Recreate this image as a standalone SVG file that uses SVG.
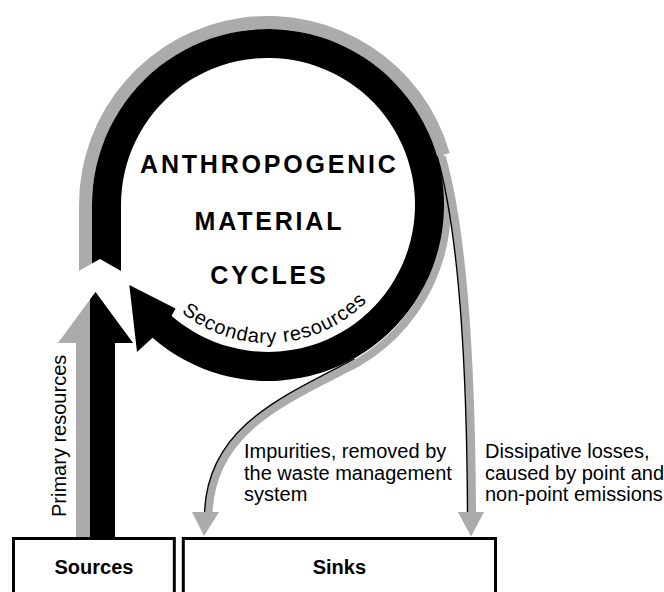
<svg xmlns="http://www.w3.org/2000/svg" width="664" height="592" viewBox="0 0 664 592">
  <style>
    .shade { fill: #ababab; }
    .ink { fill: #000; }
    .stream { fill: none; stroke: #ababab; }
    .edge { fill: none; stroke: #000; stroke-width: 1.4; }
    .box { fill: #fff; stroke: #000; stroke-width: 3; }
    .title { font-family: "Liberation Sans", Arial, sans-serif; font-weight: bold; font-size: 25px; letter-spacing: 2.8px; text-anchor: middle; fill: #000; }
    .label { font-family: "Liberation Sans", Arial, sans-serif; font-size: 20px; fill: #000; }
    .curved { letter-spacing: 0.8px; }
    .boxlabel { font-family: "Liberation Sans", Arial, sans-serif; font-weight: bold; font-size: 20px; text-anchor: middle; fill: #000; }
  </style>
  <defs>
    <!-- baseline arc for the curved label, concentric with the loop -->
    <path id="secondaryArc" d="M 148.5,274 A 138 138 0 0 0 387.5,274"/>
  </defs>

  <rect width="664" height="592" fill="#fff"/>

  <g id="connectors">
    <!-- outer grey band around the cycle, chevron cut at the lower left -->
    <path class="shade" d="M 79,271 L 79,205 A 189 189 0 0 1 449.7,152.9 L 437.2,156.5 A 176 176 0 0 0 92,205 L 92,263.6 Z"/>
    <!-- thin grey edge along the right side that peels off as the impurities stream -->
    <path class="stream" stroke-width="8" d="M 433.6,139.2 A 180 180 0 0 1 357,363 C 282,402 212,430 208.5,513"/>
    <path class="edge" d="M 354.5,359 C 279,398 207.5,428 204.5,513"/>
    <polygon class="shade" points="192,512 219,512 204,536"/>
    <!-- dissipative losses stream -->
    <path class="stream" stroke-width="8" d="M 441.7,156.5 C 466.5,243 471.5,400 472,513"/>
    <path class="edge" d="M 437.2,156.5 C 462,243 467,400 467.5,513"/>
    <polygon class="shade" points="458,512 484,512 471,536.5"/>
    <!-- primary resources arrow: grey left half, black right half -->
    <polygon class="shade" points="95.5,292 58,343 76,343 76,537 115,537 115,343 133,343"/>
    <polygon class="ink" points="95.5,292 133,343 115,343 115,537 90,537 90,299.5"/>
  </g>

  <g id="cycle">
    <!-- black loop ending in the secondary resources arrowhead -->
    <path class="ink" d="M 92,263.6 L 92,205 A 176 176 0 1 1 152.5,337.8 L 137,352 L 129.3,285 L 175.5,308.5 L 171.6,315.9 A 147 147 0 1 0 121,205 L 121,271 L 100,259 Z"/>
    <text class="title" x="269.4" y="173">ANTHROPOGENIC</text>
    <text class="title" x="269.4" y="230">MATERIAL</text>
    <text class="title" x="269.4" y="284">CYCLES</text>
    <text class="label curved"><textPath href="#secondaryArc" startOffset="53%" text-anchor="middle">Secondary resources</textPath></text>
  </g>

  <g id="labels">
    <text class="label" transform="translate(66,517) rotate(-90)">Primary resources</text>
    <text class="label" x="244" y="458">Impurities, removed by</text>
    <text class="label" x="244" y="479.5">the waste management</text>
    <text class="label" x="244" y="501">system</text>
    <text class="label" x="485" y="458">Dissipative losses,</text>
    <text class="label" x="485" y="479.5">caused by point and</text>
    <text class="label" x="485" y="501">non-point emissions</text>
  </g>

  <g id="sources">
    <rect class="box" x="13.5" y="538.5" width="160.8" height="70"/>
    <text class="boxlabel" x="94" y="574">Sources</text>
  </g>

  <g id="sinks">
    <rect class="box" x="183.3" y="538.5" width="312.2" height="70"/>
    <text class="boxlabel" x="339.4" y="574">Sinks</text>
  </g>
</svg>
